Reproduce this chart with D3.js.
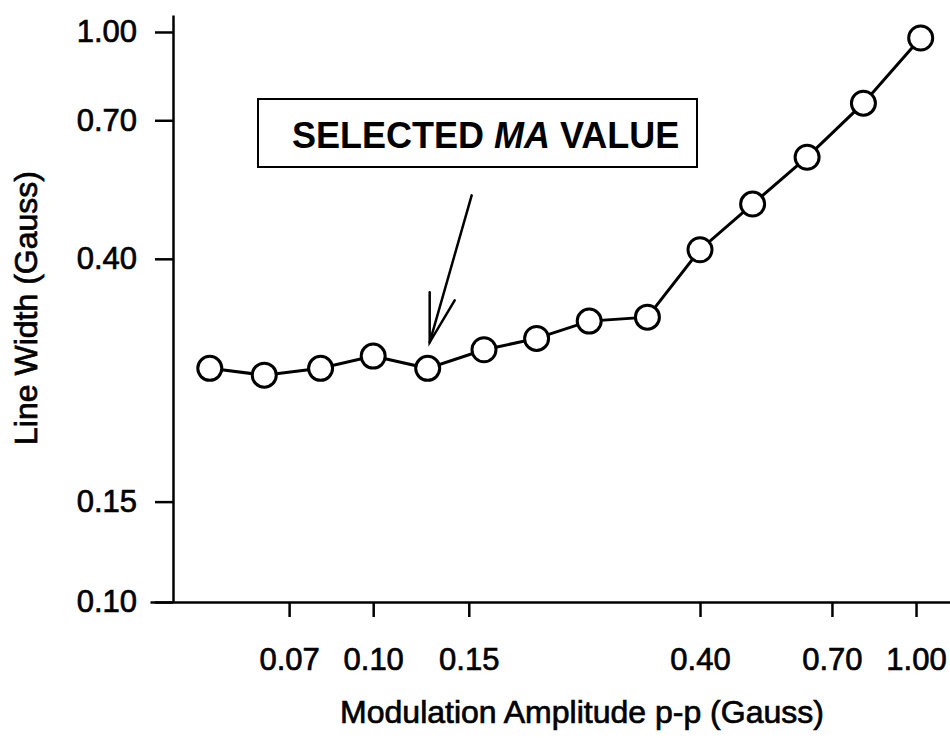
<!DOCTYPE html>
<html>
<head>
<meta charset="utf-8">
<script src="https://cdn.jsdelivr.net/npm/d3@7"></script>
<style>
  body { margin: 0; background: #fff; }
  svg { display: block; font-family: "Liberation Sans", Arial, sans-serif; }
  .heavy { stroke: #000; stroke-width: 0.7px; }
</style>
</head>
<body>
<svg></svg>
<script>
const width = 950;
const height = 747;

// modulation amplitude (Gauss, p-p) and measured line width (Gauss)
const modAmp = [0.05, 0.063, 0.08, 0.10, 0.126, 0.16, 0.20, 0.25, 0.32, 0.40, 0.50, 0.63, 0.80, 1.02];
const lineWidth = [0.257, 0.250, 0.257, 0.270, 0.257, 0.277, 0.290, 0.311, 0.316, 0.415, 0.499, 0.603, 0.750, 0.976];
const xTicks = [0.07, 0.10, 0.15, 0.40, 0.70, 1.00];
const yTicks = [0.10, 0.15, 0.40, 0.70, 1.00];
const selectedIndex = 4; // the "selected MA value" point

const svg = d3.select("svg").attr("width", width).attr("height", height);

// log-log scales
const x = d3.scaleLog().domain([0.0388, 1.155]).range([150, 950]);
const y = d3.scaleLog().domain([0.1, 1.071]).range([602, 15]);
const fmt = d3.format(".2f");

// x axis
const xAxis = svg.append("g")
    .attr("transform", "translate(0,602)")
    .call(d3.axisBottom(x).tickValues(xTicks).tickFormat(fmt).tickSize(15).tickSizeOuter(0).tickPadding(31));

// y axis
const yAxis = svg.append("g")
    .attr("transform", `translate(173,0)`)
    .call(d3.axisLeft(y).tickValues(yTicks).tickFormat(fmt).tickSize(18).tickSizeOuter(0).tickPadding(18));

[xAxis, yAxis].forEach(g => {
    g.select(".domain").attr("stroke", "#000").attr("stroke-width", 2.5);
    g.selectAll(".tick line").attr("stroke", "#000").attr("stroke-width", 2.5);
    g.selectAll(".tick text")
        .attr("fill", "#000")
        .attr("class", "heavy")
        .style("font-size", "31px")
        .style("font-family", "'Liberation Sans', Arial, sans-serif");
});

// axis titles
svg.append("text")
    .attr("class", "heavy")
    .attr("x", 582)
    .attr("y", 723)
    .attr("text-anchor", "middle")
    .style("font-size", "32px")
    .attr("fill", "#000")
    .text("Modulation Amplitude p-p (Gauss)");

svg.append("text")
    .attr("class", "heavy")
    .attr("transform", "translate(37,308) rotate(-90)")
    .attr("text-anchor", "middle")
    .style("font-size", "32px")
    .attr("fill", "#000")
    .text("Line Width (Gauss)");

// data line
const points = modAmp.map((d, i) => ({ xv: d, yv: lineWidth[i] }));

svg.append("path")
    .datum(points)
    .attr("fill", "none")
    .attr("stroke", "#000")
    .attr("stroke-width", 3)
    .attr("d", d3.line().x(d => x(d.xv)).y(d => y(d.yv)));

svg.append("g")
    .selectAll("circle")
    .data(points)
    .enter().append("circle")
    .attr("cx", d => x(d.xv))
    .attr("cy", d => y(d.yv))
    .attr("r", 12)
    .attr("fill", "#fff")
    .attr("stroke", "#000")
    .attr("stroke-width", 3);

// annotation box
svg.append("rect")
    .attr("x", 258)
    .attr("y", 99)
    .attr("width", 439)
    .attr("height", 68)
    .attr("fill", "#fff")
    .attr("stroke", "#000")
    .attr("stroke-width", 2);

const label = svg.append("text")
    .attr("x", 292)
    .attr("y", 148)
    .style("font-size", "36px")
    .style("font-weight", "bold")
    .attr("fill", "#000");
label.append("tspan").text("SELECTED ");
label.append("tspan").style("font-style", "italic").text("MA");
label.append("tspan").text(" VALUE");

// arrow pointing at the selected point
const sel = points[selectedIndex];
const tipX = x(sel.xv) + 2;
const tipY = y(sel.yv) - 26;
const arrow = svg.append("g")
    .attr("stroke", "#000")
    .attr("stroke-width", 2.5)
    .attr("fill", "none")
    .attr("stroke-linecap", "round");
arrow.append("line")
    .attr("x1", tipX + 42).attr("y1", tipY - 147)
    .attr("x2", tipX).attr("y2", tipY);
arrow.append("path")
    .attr("d", `M${tipX},${tipY - 50}L${tipX},${tipY}L${tipX + 25},${tipY - 42}`);
</script>
</body>
</html>
